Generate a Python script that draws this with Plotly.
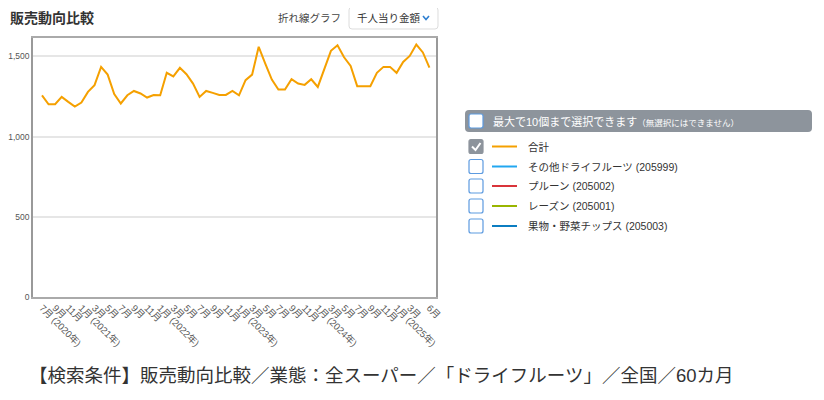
import pandas as pd
import plotly.graph_objects as go

# -- data ---------------------------------------------------------------------
months = pd.period_range("2020-07", periods=60, freq="M")
total = [1257, 1201, 1201, 1247, 1216, 1187, 1212, 1278, 1320, 1434,
         1386, 1264, 1206, 1257, 1284, 1268, 1243, 1259, 1257, 1397,
         1375, 1428, 1388, 1330, 1247, 1284, 1272, 1259, 1259, 1284,
         1257, 1351, 1386, 1559, 1455, 1355, 1293, 1293, 1357, 1330,
         1322, 1357, 1309, 1424, 1534, 1569, 1494, 1440, 1314, 1314,
         1314, 1397, 1434, 1434, 1397, 1465, 1502, 1573, 1524, 1430]

series_names = ["合計", "その他ドライフルーツ (205999)", "プルーン (205002)",
                "レーズン (205001)", "果物・野菜チップス (205003)"]
series_colors = ["#f5a000", "#22a7f0", "#d9343a", "#99b500", "#0b7dc1"]
checked = [True, False, False, False, False]

title = "販売動向比較"
chart_type = "折れ線グラフ"
measure = "千人当り金額"
header_text = "最大で10個まで選択できます"
header_note = "（無選択にはできません）"
footer = "【検索条件】販売動向比較／業態：全スーパー／「ドライフルーツ」／全国／60カ月"

cats = [p.strftime("%Y-%m") for p in months]
tick_idx = list(range(0, 58, 2)) + [59]
tick_vals = [cats[i] for i in tick_idx]
tick_text = []
for i in tick_idx:
    p = months[i]
    lbl = str(p.month) + "月"
    if i == 0 or p.month == 1:
        lbl += " (" + str(p.year) + "年)"
    tick_text.append(lbl)

# -- layout in page pixels (page has an 8px body margin) ----------------------
OFF = 8
W, H = 816, 392
L, R, T, B = 33 - OFF, 436 - OFF, 38 - OFF, 297 - OFF

def px(x):
    # x given in page pixels
    return (x - OFF - L) / (R - L)

def py(y):
    return (B - (y - OFF)) / (B - T)

def rrect(x0, y0, x1, y1, r):
    pts = [("M", x0 + r, y0), ("L", x1 - r, y0), ("Q", x1, y0, x1, y0 + r),
           ("L", x1, y1 - r), ("Q", x1, y1, x1 - r, y1), ("L", x0 + r, y1),
           ("Q", x0, y1, x0, y1 - r), ("L", x0, y0 + r), ("Q", x0, y0, x0 + r, y0)]
    s = ""
    for p in pts:
        cmd = p[0]
        coords = p[1:]
        parts = []
        for k in range(0, len(coords), 2):
            parts.append("%.5f,%.5f" % (px(coords[k]), py(coords[k + 1])))
        s += cmd + " " + " ".join(parts) + " "
    return s + "Z"

fig = go.Figure()
fig.add_trace(go.Scatter(x=cats, y=total, mode="lines", name=series_names[0],
                         line=dict(color=series_colors[0], width=2)))

shapes = []
annotations = []

# header / dropdown
annotations.append(dict(x=px(8), y=py(18), xref="paper", yref="paper", text="<b>" + title + "</b>",
                        showarrow=False, xanchor="left", yanchor="middle",
                        font=dict(size=14, color="#333")))
annotations.append(dict(x=px(343), y=py(18), xref="paper", yref="paper", text=chart_type,
                        showarrow=False, xanchor="right", yanchor="middle",
                        font=dict(size=10.5, color="#444")))
shapes.append(dict(type="path", path=rrect(349, 7, 438, 29, 3), xref="paper", yref="paper",
                   line=dict(color="#dcdcdc", width=1), fillcolor="white"))
annotations.append(dict(x=px(355), y=py(18), xref="paper", yref="paper", text=measure,
                        showarrow=False, xanchor="left", yanchor="middle",
                        font=dict(size=10.5, color="#333")))
shapes.append(dict(type="path", xref="paper", yref="paper",
                   path="M %.5f,%.5f L %.5f,%.5f L %.5f,%.5f" % (px(423), py(16), px(426), py(19.5), px(429), py(16)),
                   line=dict(color="#2f7fd0", width=1.6)))

# legend panel
shapes.append(dict(type="path", path=rrect(465, 110, 812, 132, 4), xref="paper", yref="paper",
                   line=dict(width=0), fillcolor="#8d949c"))
shapes.append(dict(type="path", path=rrect(469, 114, 483, 128, 2), xref="paper", yref="paper",
                   line=dict(color="#5d9be0", width=1.2), fillcolor="white"))
annotations.append(dict(x=px(491), y=py(121), xref="paper", yref="paper",
                        text=header_text + "<span style='font-size:8.5px'>" + header_note + "</span>",
                        showarrow=False, xanchor="left", yanchor="middle",
                        font=dict(size=11, color="white")))

row_y = [146.5, 166.5, 186, 206, 226]
for name, col, chk, yc in zip(series_names, series_colors, checked, row_y):
    if chk:
        shapes.append(dict(type="path", path=rrect(469, yc - 7, 483, yc + 7, 2), xref="paper", yref="paper",
                           line=dict(color="#8d949c", width=1.2), fillcolor="#8d949c"))
        shapes.append(dict(type="path", xref="paper", yref="paper",
                           path="M %.5f,%.5f L %.5f,%.5f L %.5f,%.5f" % (px(472), py(yc), px(475.5), py(yc + 3.5), px(480.5), py(yc - 3.5)),
                           line=dict(color="white", width=2)))
    else:
        shapes.append(dict(type="path", path=rrect(469, yc - 7, 483, yc + 7, 2), xref="paper", yref="paper",
                           line=dict(color="#5d9be0", width=1.2), fillcolor="white"))
    shapes.append(dict(type="line", xref="paper", yref="paper", x0=px(492), x1=px(517), y0=py(yc), y1=py(yc),
                       line=dict(color=col, width=2)))
    annotations.append(dict(x=px(526), y=py(yc), xref="paper", yref="paper", text=name,
                            showarrow=False, xanchor="left", yanchor="middle",
                            font=dict(size=10.5, color="#333")))

# search conditions footer
annotations.append(dict(x=px(27), y=py(375), xref="paper", yref="paper", text=footer,
                        showarrow=False, xanchor="left", yanchor="middle",
                        font=dict(size=18.5, color="#333")))

fig.update_layout(
    width=W, height=H, autosize=False,
    margin=dict(l=L, r=W - R, t=T, b=H - B),
    paper_bgcolor="white", plot_bgcolor="white",
    font=dict(family="Liberation Sans, Noto Sans CJK JP", color="#555"),
    showlegend=False,
    shapes=shapes, annotations=annotations,
    xaxis=dict(type="category", range=[-1.37, 60.0], tickvals=tick_vals, ticktext=tick_text,
               tickangle=45, tickfont=dict(size=9.5, color="#555"), showgrid=False, automargin=False,
               showline=True, linecolor="#aaa", linewidth=1.5, mirror=True, ticks=""),
    yaxis=dict(range=[0, 1614], tickvals=[0, 500, 1000, 1500], tickformat=",", automargin=False,
               tickfont=dict(size=8.5, color="#555"), showgrid=True, gridcolor="#e6e6e6",
               gridwidth=1.5, zeroline=False, showline=True, linecolor="#999", linewidth=1.5,
               mirror=True, ticks=""),
)

fig.write_html("out.html")
